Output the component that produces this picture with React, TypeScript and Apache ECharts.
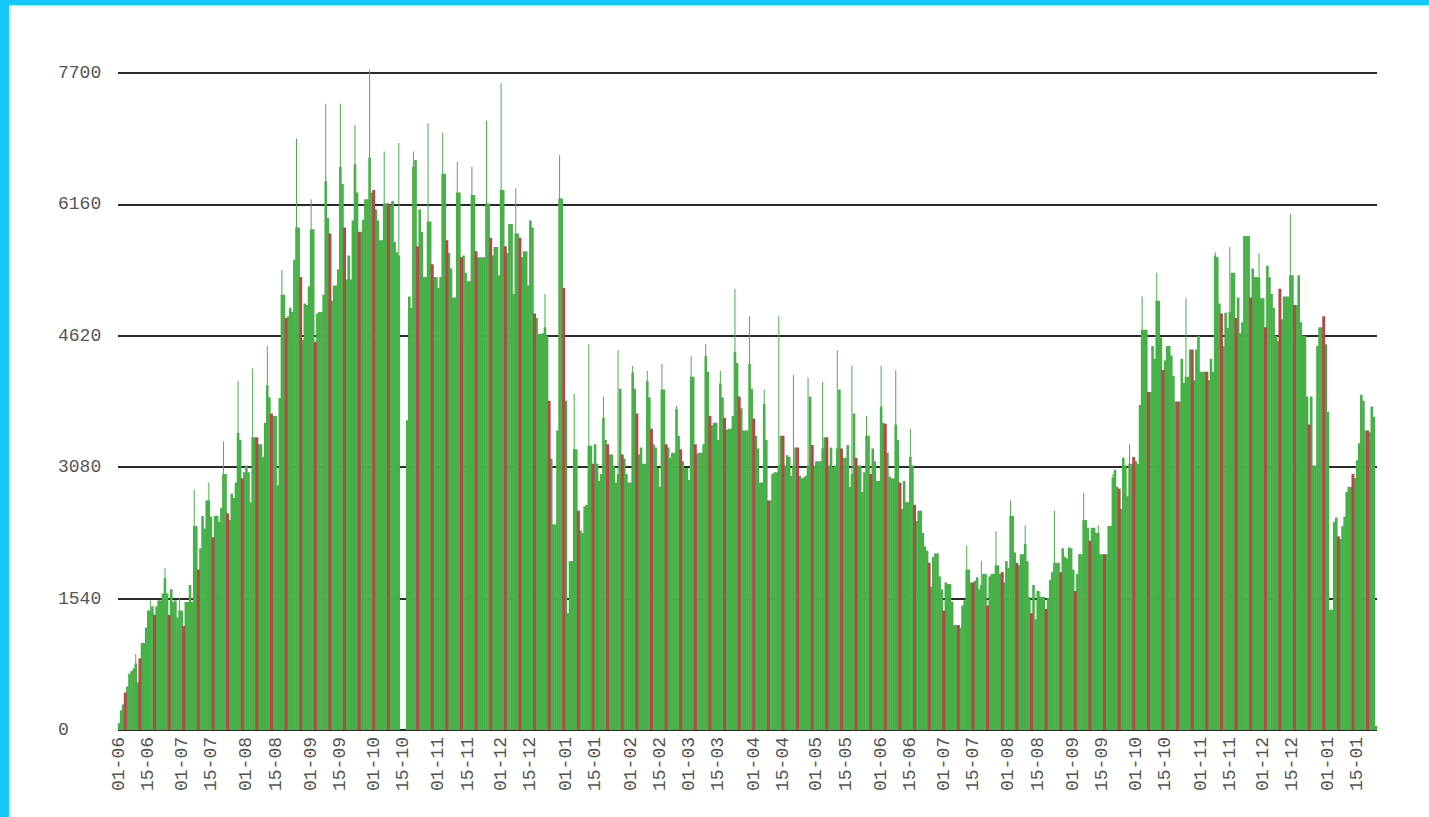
import React, { useEffect, useRef } from "react";
import * as echarts from "echarts";

// Daily values starting 01-06 (2017), one per day
const dailyValues: number[] = [
  80, 230, 300, 440, 510, 660, 690,
  720, 780, 560, 840, 1020, 1020, 1200,
  1400, 1400, 1450, 1350, 1450, 1520, 1520,
  1600, 1780, 1600, 1350, 1650, 1500, 1520,
  1320, 1400, 1400, 1220, 1500, 1500, 1700,
  1500, 2390, 2390, 1880, 2130, 2510, 2360,
  2690, 2690, 2500, 2260, 2510, 2510, 2440,
  2600, 3000, 3000, 2540, 2460, 2770, 2720,
  2900, 3480, 3400, 2950, 3020, 3100, 3020,
  2670, 3430, 3430, 3430, 3350, 3350, 3200,
  3600, 4040, 3900, 3710, 3680, 3680, 2870,
  3890, 5100, 5100, 4830, 4850, 4950, 4900,
  5510, 5890, 5890, 5310, 4570, 5000, 4980,
  5200, 5870, 5870, 4550, 4880, 4900, 4900,
  5100, 6430, 6000, 5820, 5030, 5210, 5210,
  5400, 6600, 6400, 5890, 5280, 5560, 5280,
  5970, 6630, 6300, 5840, 5840, 5980, 6220,
  6220, 6710, 6300, 6330, 6100, 5970, 5740,
  5740, 6170, 6170, 6170, 6150, 6200, 5720,
  5600, 5560, 0, 0, 0, 3630, 5080,
  4950, 6600, 6680, 5670, 6100, 5840, 5310,
  5310, 5960, 5960, 5460, 5310, 5310, 5180,
  5310, 6520, 6520, 5740, 5590, 5410, 5070,
  5070, 6300, 6300, 5540, 5560, 5360, 5260,
  5260, 6270, 6270, 5610, 5540, 5540, 5540,
  5540, 6170, 6170, 5770, 5560, 5660, 5660,
  5330, 6330, 6330, 5670, 5590, 5930, 5930,
  5110, 5820, 5820, 5770, 5540, 5610, 5610,
  5210, 5970, 5890, 4880, 4830, 4640, 4640,
  4650, 4720, 4620, 3860, 3180, 2410, 2410,
  3510, 6230, 6230, 5180, 3860, 1370, 1980,
  1980, 3290, 3290, 2570, 2340, 2310, 2620,
  2640, 3330, 3330, 3120, 3350, 3120, 2920,
  3000, 3660, 3400, 3350, 3230, 3230, 3100,
  2900, 3000, 4000, 3230, 3180, 3000, 2900,
  2900, 4190, 4000, 3710, 3230, 3310, 3120,
  3120, 4090, 3900, 3530, 3350, 3310, 3070,
  2850, 3990, 3990, 3350, 3310, 3190, 3250,
  3250, 3760, 3450, 3290, 3150, 3070, 3070,
  2930, 4140, 4140, 3350, 3240, 3250, 3250,
  3350, 4380, 4200, 3680, 3570, 3600, 3600,
  3400, 4060, 3900, 3660, 3520, 3530, 3530,
  3680, 4430, 4300, 3910, 3770, 3510, 3510,
  3510, 4290, 4000, 3650, 3450, 3300, 2900,
  2900, 3820, 3400, 2690, 2690, 3000, 3020,
  3020, 3100, 3450, 3450, 3100, 3220, 3200,
  2980, 3100, 3310, 3310, 2980, 2950, 2960,
  2980, 3100, 3910, 3340, 3100, 3150, 3150,
  3150, 3300, 3430, 3430, 3100, 3310, 3080,
  3100, 3300, 3990, 3300, 3190, 3190, 3340,
  2850, 3000, 3710, 3190, 3100, 3100, 2790,
  3020, 3450, 3450, 3000, 3300, 3150, 2920,
  2920, 3790, 3600, 3590, 3250, 2970, 2950,
  2950, 3580, 3400, 2900, 2590, 2920, 2670,
  2670, 3200, 3100, 2640, 2450, 2570, 2570,
  2310, 2150, 2100, 1960, 1680, 2030, 2070,
  2070, 1800, 1650, 1400, 1730, 1710, 1710,
  1500, 1230, 1230, 1230, 1200, 1460, 1520,
  1880, 1880, 1730, 1730, 1750, 1790, 1650,
  1700, 1830, 1830, 1460, 1800, 1830, 1830,
  1930, 1930, 1830, 1850, 1730, 1980, 1900,
  2510, 2510, 2080, 1960, 1930, 2060, 2060,
  2180, 1980, 1560, 1370, 1700, 1300, 1630,
  1560, 1560, 1560, 1420, 1550, 1760, 1850,
  1960, 1960, 1960, 1850, 2130, 2030, 2010,
  2130, 2130, 1880, 1630, 1830, 2060, 2060,
  2460, 2460, 2370, 2220, 2370, 2370, 2310,
  2310, 2060, 2060, 2060, 2060, 2390, 2390,
  2960, 3050, 2850, 2830, 2590, 3190, 3100,
  2740, 3120, 3120, 3200, 3150, 3120, 3810,
  4690, 4690, 4690, 3960, 3960, 4500, 4350,
  5030, 5030, 4600, 4220, 4330, 4500, 4500,
  4390, 4150, 3850, 3850, 3850, 4350, 4070,
  4140, 4140, 4460, 4460, 4100, 4460, 4620,
  4200, 4200, 4200, 4200, 4100, 4350, 4200,
  5560, 5540, 5000, 4880, 4500, 4890, 4710,
  4900, 5360, 5360, 4830, 5070, 4650, 4780,
  5790, 5790, 5790, 5070, 5410, 5310, 5310,
  5300, 5060, 5060, 4720, 5440, 5310, 5110,
  4950, 4620, 4560, 5170, 4810, 5080, 5080,
  5080, 5330, 5330, 4980, 4980, 5330, 4780,
  4620, 4620, 3910, 3580, 3910, 3100, 3100,
  4500, 4720, 4720, 4850, 4520, 3730, 1410,
  1410, 2440, 2490, 2270, 2240, 2390, 2500,
  2790, 2850, 2850, 3000, 2950, 3160, 3360,
  3930, 3860, 3510, 3510, 3490, 3790, 3670,
  50,
];

// Weekly peak spikes: day index and value
const spikeDays: number[] = [
  8, 15, 22, 29, 36, 43, 50, 57, 64, 71, 78, 85, 92, 99, 106, 113, 120, 127, 134,
  141, 148, 155, 162, 169, 176, 183, 190, 204, 211, 218, 225, 232, 239, 246, 253,
  260, 267, 274, 281, 288, 295, 302, 309, 316, 323, 330, 337, 344, 351, 358, 365,
  372, 379, 406, 413, 420, 427, 434, 441, 448, 455, 462, 469, 476, 484, 490, 497,
  511, 525, 532, 546, 561,
];
const spikeValues: number[] = [
  890, 1520, 1900, 1550, 2820, 2900, 3380, 4090, 4240, 4500, 5390, 6930, 6220, 7340, 7340, 7090, 7740, 6780, 6880,
  6780, 7110, 7000, 6660, 6600, 7140, 7580, 6350, 5110, 6740, 3940, 4520, 3910, 4450, 4270, 4210,
  4290, 3800, 4380, 4520, 4210, 5170, 4850, 3990, 4850, 4160, 4130, 4080, 4450, 4270, 3680, 4270,
  4220, 3530, 2160, 1980, 2330, 2690, 2400, 1630, 2570, 2150, 2780, 2400, 3000, 3350, 5080, 5360,
  5060, 5600, 5660, 5590, 6050,
];

const yTicks: number[] = [0, 1540, 3080, 4620, 6160, 7700];
const startDate = Date.UTC(2017, 5, 1);

const GREEN = "#48b048";
const RED = "#b34a4a";

export default function App() {
  const ref = useRef<HTMLDivElement>(null);

  useEffect(() => {
    if (!ref.current) return;
    const chart = echarts.init(ref.current, undefined, { renderer: "svg" });

    const dates = dailyValues.map((_, i) => new Date(startDate + i * 86400000));
    const categories = dates.map((d) => {
      const dd = String(d.getUTCDate()).padStart(2, "0");
      const mm = String(d.getUTCMonth() + 1).padStart(2, "0");
      return `${dd}-${mm}`;
    });

    const isSunday = (i: number) => dates[i].getUTCDay() === 0;
    const greenData = dailyValues.map((v, i) => (isSunday(i) ? null : v));
    const redData = dailyValues.map((v, i) => (isSunday(i) ? v : null));
    const spikeData: (number | null)[] = dailyValues.map(() => null);
    spikeDays.forEach((d, k) => {
      spikeData[d] = spikeValues[k];
    });

    const labelFont = {
      fontFamily: "Liberation Mono, DejaVu Sans Mono, monospace",
      fontSize: 18,
      color: "#555",
    };

    const hiddenAxis = {
      type: "category",
      data: categories,
      boundaryGap: true,
      show: false,
    };

    chart.setOption({
      animation: false,
      grid: { left: 118, right: 52, top: 73, bottom: 87 },
      xAxis: [
        {
          type: "category",
          data: categories,
          boundaryGap: true,
          axisLine: { show: false },
          axisTick: { show: false },
          axisLabel: {
            ...labelFont,
            rotate: 90,
            margin: 7,
            hideOverlap: false,
            interval: (_idx: number, val: string) =>
              val.startsWith("01-") || val.startsWith("15-"),
          },
        },
        hiddenAxis,
        hiddenAxis,
      ],
      yAxis: {
        type: "value",
        min: yTicks[0],
        max: yTicks[yTicks.length - 1],
        interval: yTicks[1] - yTicks[0],
        axisLine: { show: false },
        axisTick: { show: false },
        splitLine: { show: true, lineStyle: { color: "#2a2a2a", width: 2 } },
        axisLabel: {
          ...labelFont,
          align: "left",
          margin: 60,
          formatter: (v: number) => String(v),
        },
      },
      series: [
        {
          name: "peak",
          type: "bar",
          xAxisIndex: 1,
          data: spikeData,
          barWidth: 1,
          itemStyle: { color: GREEN },
          z: 1,
          clip: false,
        },
        {
          name: "daily",
          type: "bar",
          xAxisIndex: 0,
          data: greenData,
          barWidth: 2.6,
          itemStyle: { color: GREEN },
          z: 2,
          clip: false,
        },
        {
          name: "sunday",
          type: "bar",
          xAxisIndex: 2,
          data: redData,
          barWidth: 3,
          itemStyle: { color: RED },
          z: 3,
          clip: false,
        },
      ],
    });

    return () => chart.dispose();
  }, []);

  return (
    <div
      style={{
        position: "fixed",
        left: 0,
        top: 0,
        width: 1429,
        height: 817,
        background: "#ffffff",
        overflow: "hidden",
      }}
    >
      <div style={{ position: "absolute", left: 0, top: 0, width: 1429, height: 5, background: "#14c8fa" }} />
      <div style={{ position: "absolute", left: 0, top: 0, width: 9, height: 817, background: "#14c8fa" }} />
      <div style={{ position: "absolute", left: 9, top: 5, width: 2, height: 812, background: "#e2e2e2" }} />
      <div style={{ position: "absolute", left: 9, top: 5, width: 1420, height: 1, background: "#e2e2e2" }} />
      <div ref={ref} style={{ position: "absolute", left: 0, top: 0, width: 1429, height: 817 }} />
    </div>
  );
}
